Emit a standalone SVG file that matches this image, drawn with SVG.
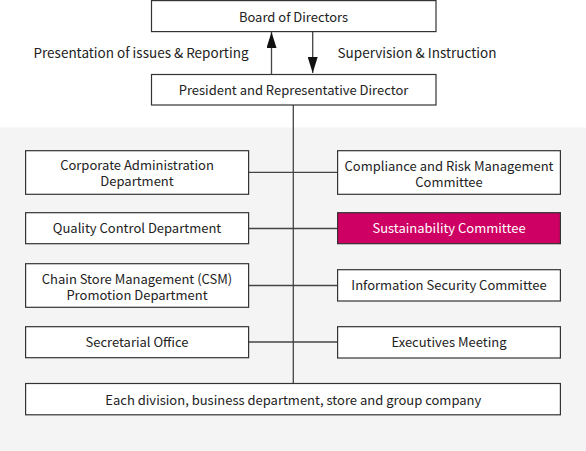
<svg xmlns="http://www.w3.org/2000/svg" width="586" height="451" viewBox="0 0 586 451">
<style>
  text { font-family: "Noto Sans CJK JP", "Noto Sans", sans-serif; font-size: 13px; fill: #222; text-anchor: middle; }
  .top { font-size: 13.5px; }
  .box { fill: #fff; stroke: #333; stroke-width: 1.2; }
  .hl { fill: #cf0063; stroke: #333; stroke-width: 1.2; }
  .hlt { fill: #fff; }
  .line { stroke: #444; stroke-width: 1.3; fill: none; }
</style>
<defs>
  <marker id="ah" viewBox="0 0 16 10" refX="16" refY="5" markerWidth="16" markerHeight="10" markerUnits="userSpaceOnUse" orient="auto">
    <path d="M0,0 L16,5 L0,10 Z" fill="#111"/>
  </marker>
</defs>
<rect x="0" y="127.5" width="586" height="323.5" fill="#f4f4f4"/>
<g id="connectors">
  <line class="line" x1="271.5" y1="74" x2="271.5" y2="32" marker-end="url(#ah)"/>
  <line class="line" x1="312.7" y1="32" x2="312.7" y2="73" marker-end="url(#ah)"/>
  <line class="line" x1="293.3" y1="105" x2="293.3" y2="383.5"/>
  <line class="line" x1="248.5" y1="172.3" x2="337.5" y2="172.3"/>
  <line class="line" x1="248.5" y1="228.5" x2="337.5" y2="228.5"/>
  <line class="line" x1="248.5" y1="285.5" x2="337.5" y2="285.5"/>
  <line class="line" x1="248.5" y1="342" x2="337.5" y2="342"/>
</g>
<g id="labels">
  <text class="top" x="141" y="57.7">Presentation of issues &amp; Reporting</text>
  <text class="top" x="417" y="57.7">Supervision &amp; Instruction</text>
</g>
<g id="board">
  <rect class="box" x="151.5" y="0.6" width="284.5" height="31"/>
  <text x="293.5" y="21.5">Board of Directors</text>
</g>
<g id="president">
  <rect class="box" x="151.5" y="74.5" width="284.5" height="30.5"/>
  <text x="293.5" y="94.8">President and Representative Director</text>
</g>
<g id="corporate-admin">
  <rect class="box" x="25.6" y="150.7" width="223" height="43.6"/>
  <text x="137" y="169.8">Corporate Administration</text>
  <text x="137" y="186">Department</text>
</g>
<g id="compliance">
  <rect class="box" x="337.6" y="150.7" width="222.8" height="43.6"/>
  <text x="449" y="170.5">Compliance and Risk Management</text>
  <text x="449" y="186.8">Committee</text>
</g>
<g id="quality">
  <rect class="box" x="25.6" y="212.7" width="223" height="31"/>
  <text x="137" y="233.3">Quality Control Department</text>
</g>
<g id="sustainability">
  <rect class="hl" x="337.6" y="212.7" width="222.8" height="31"/>
  <text class="hlt" x="449" y="233.3">Sustainability Committee</text>
</g>
<g id="csm">
  <rect class="box" x="25.6" y="263.7" width="223" height="43.6"/>
  <text x="137" y="283.5">Chain Store Management (CSM)</text>
  <text x="137" y="299.8">Promotion Department</text>
</g>
<g id="infosec">
  <rect class="box" x="337.6" y="269.7" width="222.8" height="31.3"/>
  <text x="449" y="290.3">Information Security Committee</text>
</g>
<g id="secretarial">
  <rect class="box" x="25.6" y="326.7" width="223" height="31"/>
  <text x="137" y="347">Secretarial Office</text>
</g>
<g id="executives">
  <rect class="box" x="337.6" y="326.7" width="222.8" height="31.3"/>
  <text x="449" y="347">Executives Meeting</text>
</g>
<g id="each-division">
  <rect class="box" x="25.6" y="383.5" width="534.8" height="31.3"/>
  <text x="293.3" y="404.5">Each division, business department, store and group company</text>
</g>
</svg>
